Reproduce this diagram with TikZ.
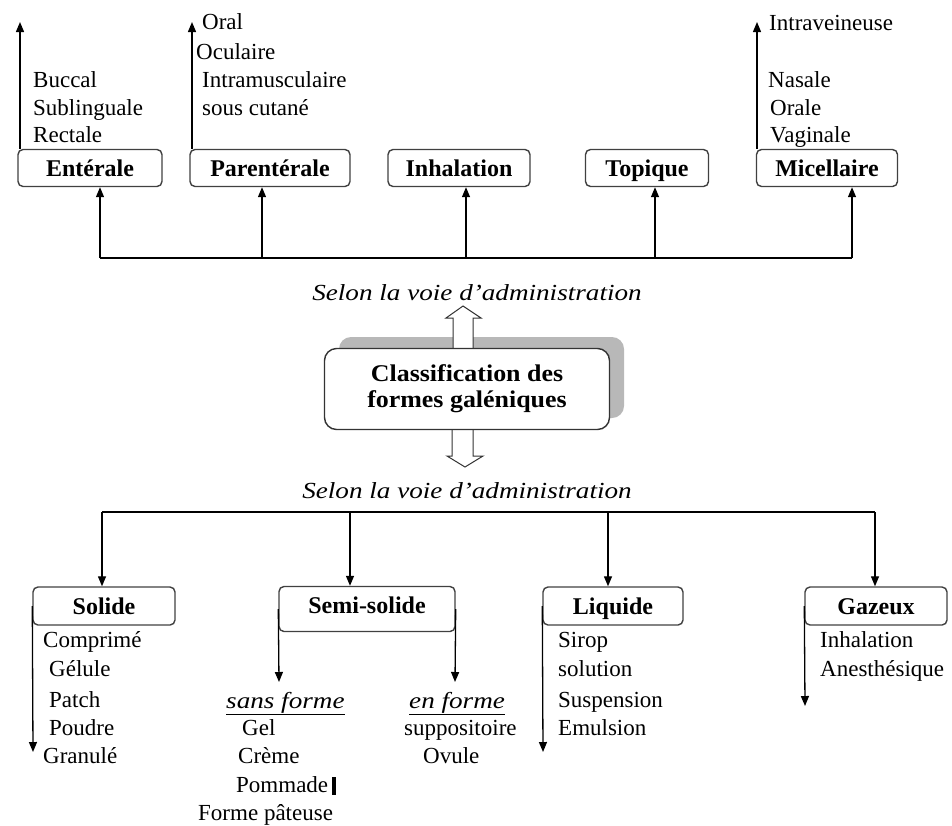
\documentclass[tikz,border=0pt]{standalone}
\usepackage{fontspec}
\setmainfont{Liberation Serif}
\newfontfamily\selfont{Liberation Serif}[FakeStretch=1.18]
\newfontfamily\cbfont{Liberation Serif}[FakeStretch=1.08]
\usetikzlibrary{arrows.meta,calc}
\begin{document}
\begin{tikzpicture}[x=1pt,y=-1pt,
  box/.style={draw=black!75, line width=1.4pt, rounded corners=5pt, minimum height=37pt,
    inner sep=0pt, text height=18pt, text depth=2pt, font=\bfseries\fontsize{24}{28}\selectfont},
  conn/.style={line width=1.3pt, -{Triangle[length=10pt,width=8pt]}},
  bus/.style={line width=1.3pt},
  item/.style={anchor=base west, inner sep=0pt, font=\fontsize{23}{28}\selectfont},
  ital/.style={anchor=base, inner sep=0pt, font=\selfont\itshape\fontsize{23}{26}\selectfont},
  itw/.style={anchor=base west, inner sep=0pt, font=\selfont\itshape\fontsize{23}{26}\selectfont},
  blockarrow/.style={draw=black!80, fill=white, line width=1pt, line join=miter}
]
\useasboundingbox (0,0) rectangle (952,825);

% ---------- top level boxes ----------
\node[box, minimum width=144pt] (ent) at (90,168) {Entérale};
\node[box, minimum width=160pt] (par) at (270,168) {Parentérale};
\node[box, minimum width=142pt] (inh) at (459,168) {Inhalation};
\node[box, minimum width=123pt] (top) at (647,168) {Topique};
\node[box, minimum width=141pt] (mic) at (827,168) {Micellaire};

% bus top
\coordinate (b1) at (100,258);
\coordinate (b2) at (262,258);
\coordinate (b3) at (466,258);
\coordinate (b4) at (655,258);
\coordinate (b5) at (852,258);
\draw[bus] (b1) -- (b5);
\draw[conn] (b1) -- (b1 |- ent.south);
\draw[conn] (b2) -- (b2 |- par.south);
\draw[conn] (b3) -- (b3 |- inh.south);
\draw[conn] (b4) -- (b4 |- top.south);
\draw[conn] (b5) -- (b5 |- mic.south);

% upward side arrows
\coordinate (ue) at (20,22);
\coordinate (up) at (192,22);
\coordinate (um) at (757,22);
\draw[conn] (ue |- ent.north) -- (ue);
\draw[conn] (up |- par.north) -- (up);
\draw[conn] (um |- mic.north) -- (um);

% lists top
\node[item] (t1) at (33,87) {Buccal};
\node[item] (t2) at (33,115) {Sublinguale};
\node[item] (t3) at (33,142) {Rectale};
\node[item] (t4) at (202,29) {Oral};
\node[item] (t5) at (196,59) {Oculaire};
\node[item] (t6) at (202,87) {Intramusculaire};
\node[item] (t7) at (202,115) {sous cutané};
\node[item] (t8) at (769,30) {Intraveineuse};
\node[item] (t9) at (768,87) {Nasale};
\node[item] (t10) at (770,115) {Orale};
\node[item] (t11) at (770,142) {Vaginale};

% ---------- central box ----------
\node[ital] (selu) at (477,300) {Selon la voie d’administration};
\coordinate (cbc) at (467,389);
\fill[black!28, rounded corners=12pt] ($(cbc)+(-128,-52)$) rectangle ($(cbc)+(157,29)$);
\begin{scope}[shift={(cbc)}]
  \draw[blockarrow] (-14,-36) -- (-14,-71) -- (-21,-71) -- (-4,-83) -- (14,-71) -- (6,-71) -- (6,-36) -- cycle;
  \draw[blockarrow] (-15,36) -- (-15,67) -- (-20,67) -- (-2,78) -- (16,67) -- (6,67) -- (6,36) -- cycle;
\end{scope}
\node[draw=black!80, line width=1.4pt, rounded corners=12pt, fill=white,
  minimum width=285pt, minimum height=81pt, inner sep=0pt, align=center,
  font=\cbfont\bfseries\fontsize{24}{26}\selectfont] (cb) at (cbc) {Classification des\\formes galéniques};
\node[ital] (seld) at (467,498) {Selon la voie d’administration};

% ---------- bottom level ----------
\node[box, minimum width=142pt, minimum height=38pt] (sol) at (104,606) {Solide};
\node[box, minimum width=176pt, minimum height=45pt, text depth=9pt] (semi) at (367,609) {Semi-solide};
\node[box, minimum width=140pt, minimum height=38pt] (liq) at (613,606) {Liquide};
\node[box, minimum width=142pt, minimum height=38pt] (gaz) at (876,606) {Gazeux};

\coordinate (c1) at (102,512);
\coordinate (c2) at (350,512);
\coordinate (c3) at (608,512);
\coordinate (c4) at (875,512);
\draw[bus] (c1) -- (c4);
\draw[conn] (c1) -- (c1 |- sol.north);
\draw[conn] (c2) -- (c2 |- semi.north);
\draw[conn] (c3) -- (c3 |- liq.north);
\draw[conn] (c4) -- (c4 |- gaz.north);

% downward side arrows
\coordinate (ds) at (33,752);
\coordinate (dsa) at (279,682);
\coordinate (dsb) at (455,682);
\coordinate (dl) at (543,752);
\coordinate (dg) at (805,706);
\draw[conn] (sol.west) -- (ds);
\draw[conn] (semi.west) -- (dsa);
\draw[conn] (semi.east) -- (dsb);
\draw[conn] (liq.west) -- (dl);
\draw[conn] (gaz.west) -- (dg);

% lists bottom
\node[item] (s1) at (43,647) {Comprimé};
\node[item] (s2) at (49,676) {Gélule};
\node[item] (s3) at (49,707) {Patch};
\node[item] (s4) at (49,735) {Poudre};
\node[item] (s5) at (43,763) {Granulé};

\node[itw] (sf) at (226,708) {\underline{sans forme}};
\node[item] (m1) at (242,735) {Gel};
\node[item] (m2) at (238,763) {Crème};
\node[item] (m3) at (236,792) {Pommade};
\fill ($(m3.base east)+(4,-15)$) rectangle ($(m3.base east)+(8,3)$);
\node[item] (m4) at (198,820) {Forme pâteuse};

\node[itw] (ef) at (409,708) {\underline{en forme}};
\node[item] (m5) at (404,735) {suppositoire};
\node[item] (m6) at (423,763) {Ovule};

\node[item] (l1) at (558,647) {Sirop};
\node[item] (l2) at (558,676) {solution};
\node[item] (l3) at (558,707) {Suspension};
\node[item] (l4) at (558,735) {Emulsion};

\node[item] (g1) at (820,647) {Inhalation};
\node[item] (g2) at (820,676) {Anesthésique};
\end{tikzpicture}
\end{document}
